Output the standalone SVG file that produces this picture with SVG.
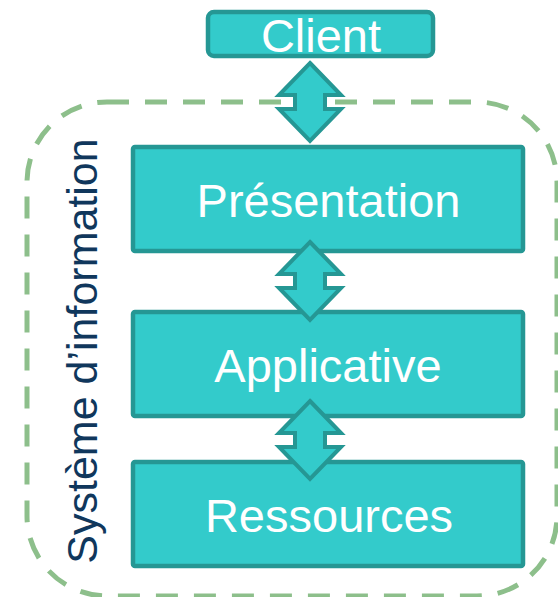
<svg xmlns="http://www.w3.org/2000/svg" width="558" height="597" viewBox="0 0 558 597">
<style>
.box{fill:#33CBCB;stroke:#259794;stroke-width:4.5}
.lbl{font-family:"Liberation Sans",Arial,sans-serif;font-size:47px;fill:#FFFFFF;text-anchor:middle}
.arr{fill:#33CBCB;stroke:#259794;stroke-width:4;stroke-linejoin:miter}
.sys{fill:none;stroke:#8DBF8B;stroke-width:5;stroke-dasharray:22 16}
.vt{font-family:"Liberation Sans",Arial,sans-serif;font-size:43px;fill:#10375C;text-anchor:middle}
</style>
<defs>
<polygon id="dbl" points="0,0 31,32 15,32 15,46 31,46 0,78 -31,46 -15,46 -15,32 -31,32"/>
</defs>
<g id="systeme">
<rect class="sys" x="27" y="102" width="530" height="494" rx="80" ry="80"/>
<text class="vt" transform="translate(97,351) rotate(-90)">Système d’information</text>
</g>
<g id="client">
<rect class="box" x="208" y="12" width="225" height="44" rx="6"/>
<text class="lbl" x="321" y="52">Client</text>
</g>
<g id="presentation">
<rect class="box" x="133" y="147" width="390" height="104" rx="2"/>
<text class="lbl" x="328.5" y="217">Présentation</text>
</g>
<g id="applicative">
<rect class="box" x="133" y="312" width="390" height="104" rx="2"/>
<text class="lbl" x="328" y="382">Applicative</text>
</g>
<g id="ressources">
<rect class="box" x="133" y="462" width="390" height="104" rx="2"/>
<text class="lbl" x="329" y="532">Ressources</text>
</g>
<g id="connectors">
<use href="#dbl" class="arr" transform="translate(310,63)"/>
<use href="#dbl" class="arr" transform="translate(310,242)"/>
<use href="#dbl" class="arr" transform="translate(310,401)"/>
</g>
</svg>
